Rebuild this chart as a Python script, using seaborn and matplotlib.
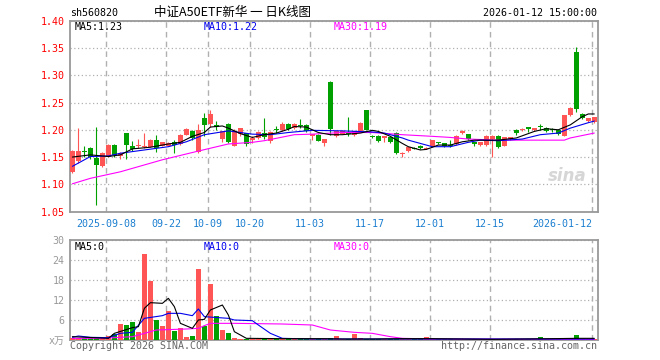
import numpy as np
import pandas as pd
import matplotlib
matplotlib.use("Agg")
import matplotlib.pyplot as plt
import seaborn as sns

# ---------------- data ----------------
opens = [1.122, 1.142, 1.161, 1.167, 1.149, 1.134, 1.151, 1.172, 1.152, 1.194,
         1.170, 1.170, 1.168, 1.169, 1.181, 1.171, 1.171, 1.178, 1.174, 1.191,
         1.198, 1.159, 1.222, 1.211, 1.209, 1.183, 1.211, 1.171, 1.193, 1.194,
         1.182, 1.185, 1.194, 1.180, 1.202, 1.199, 1.211, 1.203, 1.208, 1.209,
         1.189, 1.191, 1.175, 1.288, 1.189, 1.193, 1.195, 1.190, 1.198, 1.236,
         1.189, 1.189, 1.185, 1.186, 1.194, 1.155, 1.161, 1.167, 1.170, 1.165,
         1.170, 1.176, 1.175, 1.173, 1.174, 1.194, 1.192, 1.177, 1.172, 1.172,
         1.183, 1.189, 1.171, 1.183, 1.200, 1.200, 1.205, 1.199, 1.206, 1.203,
         1.200, 1.199, 1.189, 1.227, 1.342, 1.229, 1.216, 1.215]
highs = [1.163, 1.203, 1.170, 1.168, 1.205, 1.159, 1.174, 1.174, 1.160, 1.195,
         1.180, 1.183, 1.194, 1.184, 1.190, 1.178, 1.177, 1.181, 1.192, 1.204,
         1.199, 1.211, 1.230, 1.236, 1.216, 1.198, 1.212, 1.201, 1.204, 1.195,
         1.189, 1.197, 1.221, 1.197, 1.207, 1.215, 1.213, 1.212, 1.220, 1.211,
         1.193, 1.192, 1.184, 1.289, 1.198, 1.199, 1.224, 1.198, 1.214, 1.237,
         1.191, 1.190, 1.189, 1.187, 1.196, 1.159, 1.169, 1.168, 1.172, 1.168,
         1.182, 1.177, 1.176, 1.181, 1.190, 1.199, 1.193, 1.178, 1.178, 1.190,
         1.190, 1.190, 1.187, 1.187, 1.201, 1.204, 1.206, 1.204, 1.211, 1.206,
         1.203, 1.200, 1.228, 1.241, 1.352, 1.230, 1.222, 1.224]
lows = [1.120, 1.139, 1.150, 1.147, 1.062, 1.132, 1.150, 1.151, 1.147, 1.146,
        1.162, 1.166, 1.166, 1.168, 1.159, 1.170, 1.170, 1.158, 1.173, 1.190,
        1.181, 1.158, 1.188, 1.206, 1.200, 1.178, 1.176, 1.170, 1.188, 1.171,
        1.176, 1.184, 1.184, 1.175, 1.195, 1.198, 1.200, 1.202, 1.204, 1.196,
        1.181, 1.179, 1.170, 1.190, 1.186, 1.192, 1.189, 1.188, 1.197, 1.199,
        1.185, 1.178, 1.177, 1.175, 1.156, 1.151, 1.160, 1.164, 1.164, 1.164,
        1.169, 1.174, 1.169, 1.168, 1.173, 1.193, 1.181, 1.171, 1.171, 1.171,
        1.151, 1.166, 1.170, 1.182, 1.191, 1.198, 1.196, 1.198, 1.200, 1.196,
        1.196, 1.191, 1.188, 1.226, 1.233, 1.219, 1.215, 1.213]
closes = [1.162, 1.161, 1.159, 1.150, 1.136, 1.158, 1.172, 1.153, 1.157, 1.172,
          1.164, 1.172, 1.170, 1.181, 1.166, 1.177, 1.176, 1.173, 1.191, 1.202,
          1.185, 1.200, 1.209, 1.229, 1.206, 1.197, 1.177, 1.198, 1.203, 1.174,
          1.185, 1.196, 1.186, 1.196, 1.200, 1.211, 1.201, 1.211, 1.207, 1.197,
          1.192, 1.180, 1.183, 1.201, 1.197, 1.198, 1.193, 1.197, 1.213, 1.200,
          1.187, 1.180, 1.188, 1.178, 1.157, 1.158, 1.168, 1.165, 1.166, 1.167,
          1.181, 1.175, 1.170, 1.170, 1.189, 1.198, 1.183, 1.174, 1.177, 1.188,
          1.189, 1.169, 1.186, 1.186, 1.195, 1.202, 1.201, 1.203, 1.205, 1.197,
          1.199, 1.192, 1.227, 1.240, 1.238, 1.221, 1.221, 1.223]
volumes = [0.7, 0.5, 0.5, 0.5, 0.6, 0.5, 1.2, 1.8, 4.8, 4.5,
           5.5, 2.3, 25.8, 17.8, 6.0, 4.3, 8.8, 2.8, 3.7, 1.0,
           1.2, 21.4, 4.2, 16.8, 7.2, 3.1, 2.2, 0.6, 0.3, 0.3,
           0.2, 0.3, 0.2, 0.3, 0.2, 0.3, 0.2, 0.3, 0.5, 0.3,
           0.3, 0.3, 0.4, 0.5, 1.2, 0.3, 0.4, 1.8, 0.6, 0.4,
           0.3, 0.3, 0.3, 0.3, 0.4, 0.3, 0.3, 0.2, 0.3, 0.9,
           0.2, 0.2, 0.3, 0.2, 0.3, 0.2, 0.2, 0.3, 0.2, 0.2,
           0.3, 0.2, 0.2, 0.2, 0.3, 0.2, 0.2, 0.3, 0.9, 0.3,
           0.2, 0.3, 0.6, 0.3, 1.5, 0.3, 0.3, 0.3]

ma5_idx = [0, 3, 6, 8, 10, 13, 16, 18, 20, 22, 23, 25, 26, 28, 30, 32, 34, 36, 37, 39, 41, 43,
           45, 48, 50, 51, 53, 55, 56, 58, 59, 61, 63, 65, 67, 71, 74, 77, 79, 81, 83, 85, 86, 87]
ma5_val = [1.150, 1.154, 1.151, 1.154, 1.165, 1.168, 1.174, 1.177, 1.188, 1.195, 1.205, 1.207,
           1.203, 1.193, 1.186, 1.191, 1.194, 1.201, 1.206, 1.205, 1.195, 1.191, 1.191, 1.194,
           1.199, 1.197, 1.188, 1.175, 1.169, 1.163, 1.164, 1.172, 1.172, 1.178, 1.181, 1.181,
           1.185, 1.197, 1.202, 1.200, 1.209, 1.224, 1.229, 1.229]
ma10_idx = [0, 3, 6, 8, 12, 16, 19, 22, 26, 28, 30, 33, 36, 40, 45, 50, 52, 55, 56, 58, 60, 63,
            66, 68, 71, 75, 78, 81, 83, 86, 87]
ma10_val = [1.133, 1.151, 1.152, 1.157, 1.163, 1.169, 1.178, 1.191, 1.198, 1.195, 1.192, 1.191,
            1.195, 1.199, 1.198, 1.196, 1.194, 1.185, 1.181, 1.175, 1.169, 1.169, 1.177, 1.181,
            1.180, 1.183, 1.191, 1.194, 1.203, 1.213, 1.216]
ma30_idx = [0, 3, 8, 15, 21, 26, 30, 32, 37, 40, 45, 50, 55, 60, 63, 66, 71, 82, 83, 87]
ma30_val = [1.101, 1.111, 1.123, 1.145, 1.161, 1.174, 1.177, 1.180, 1.191, 1.192, 1.195, 1.195,
            1.191, 1.188, 1.186, 1.183, 1.181, 1.181, 1.185, 1.194]

vma5_idx = [0, 6, 7, 10, 11, 12, 13, 15, 16, 17, 18, 20, 21, 22, 23, 25, 26, 27, 29, 35, 42,
            45, 50, 55, 60, 70, 80, 84, 87]
vma5_val = [1.0, 0.5, 2.0, 3.7, 4.0, 9.5, 11.2, 11.0, 12.5, 10.0, 5.0, 3.5, 6.0, 6.2, 9.0, 10.5,
            7.5, 2.5, 0.5, 0.4, 0.4, 0.3, 0.3, 0.4, 0.4, 0.2, 0.4, 0.5, 0.5]
vma10_idx = [0, 1, 3, 6, 8, 10, 12, 15, 16, 18, 20, 21, 22, 26, 27, 30, 31, 33, 35, 40, 87]
vma10_val = [0.8, 1.2, 0.8, 0.7, 2.0, 2.3, 6.5, 7.3, 8.0, 8.0, 7.3, 9.3, 7.0, 6.5, 6.0, 5.8,
             4.5, 2.0, 0.5, 0.3, 0.3]
vma30_idx = [0, 5, 10, 12, 14, 19, 21, 22, 23, 27, 35, 40, 41, 43, 47, 50, 53, 55, 60, 87]
vma30_val = [0.5, 0.5, 1.0, 2.0, 3.0, 3.3, 3.5, 4.3, 5.0, 5.0, 4.8, 4.5, 4.0, 3.0, 2.3, 2.0,
             1.0, 0.5, 0.3, 0.2]

date_idx = [6, 16, 23, 30, 40, 50, 60, 70, 87]
date_labels = ["2025-09-08", "09-22", "10-09", "10-20", "11-03", "11-17", "12-01", "12-15", "2026-01-12"]
price_ticks = [1.05, 1.10, 1.15, 1.20, 1.25, 1.30, 1.35, 1.40]
vol_ticks = [0, 6, 12, 18, 24, 30]
vol_tick_labels = ["x万", "6", "12", "18", "24", "30"]

# ---------------- style ----------------
sns.set_theme(style="white")
plt.rcParams['font.family'] = ['DejaVu Sans Mono', 'Noto Sans CJK SC']

RED = "#ff5555"
GREEN = "#00a000"
GRID = "#b0b0b0"
SPINE = "#999999"
BLUE = "#0000ee"
MAG = "#ff00ff"
XLAB = "#1c7fd0"
LW = 0.8

W, H = 660, 360
fig = plt.figure(figsize=(W / 100, H / 100), dpi=100)


def fy(y):
    return 1 - y / H


ax = fig.add_axes([70 / W, fy(211.6), 528 / W, (211.6 - 20.7) / H])
axv = fig.add_axes([70 / W, fy(340), 528 / W, 100 / H])

df = pd.DataFrame({"o": opens, "h": highs, "l": lows, "c": closes, "v": volumes})
df["i"] = np.arange(len(df))
df["up"] = df["c"] >= df["o"]
colors = [RED if u else GREEN for u in df["up"]]

xlim = (-0.4, 87.62)

# ---------------- price panel ----------------
ax.vlines(df["i"], df["l"], df["h"], colors=colors, linewidth=0.8, zorder=3)
body_bottom = np.minimum(df["o"], df["c"])
body_h = np.maximum(np.abs(df["c"] - df["o"]), 0.0018)
ax.bar(df["i"], body_h, bottom=body_bottom, width=0.78, color=colors, linewidth=0, zorder=4)

sns.lineplot(x=ma30_idx, y=ma30_val, ax=ax, color=MAG, linewidth=LW, zorder=5, legend=False)
sns.lineplot(x=ma10_idx, y=ma10_val, ax=ax, color=BLUE, linewidth=LW, zorder=6, legend=False)
sns.lineplot(x=ma5_idx, y=ma5_val, ax=ax, color="black", linewidth=LW, zorder=7, legend=False)

ax.set_xlim(*xlim)
ax.set_ylim(1.05, 1.40)
ax.set_yticks(price_ticks)
ax.set_yticklabels([f"{t:.2f}" for t in price_ticks], color="red", fontsize=7.2)
grid_x = [d - 0.4 for d in date_idx]
ax.set_xticks(grid_x)
ax.set_xticklabels(date_labels, color=XLAB, fontsize=7.2)
xt = ax.get_xticklabels()
xt[-1].set_horizontalalignment("right")
ax.tick_params(axis="both", length=0, pad=4)
ax.tick_params(axis="x", pad=5)
ax.yaxis.grid(True, linestyle=(0, (1, 2)), color=GRID, linewidth=0.9)
ax.xaxis.grid(True, linestyle=(0, (4, 3)), color=GRID, linewidth=1)
ax.set_xlabel("")
ax.set_ylabel("")
for s in ax.spines.values():
    s.set_color(SPINE)
    s.set_linewidth(1.3)

# ---------------- volume panel ----------------
axv.bar(df["i"], df["v"], width=0.8, color=colors, linewidth=0, zorder=3)
sns.lineplot(x=vma30_idx, y=vma30_val, ax=axv, color=MAG, linewidth=LW, zorder=5, legend=False)
sns.lineplot(x=vma10_idx, y=vma10_val, ax=axv, color=BLUE, linewidth=LW, zorder=6, legend=False)
sns.lineplot(x=vma5_idx, y=vma5_val, ax=axv, color="black", linewidth=LW, zorder=7, legend=False)
axv.set_xlim(*xlim)
axv.set_ylim(0, 30)
axv.set_yticks(vol_ticks)
axv.set_yticklabels(vol_tick_labels, color="#999999", fontsize=7.2)
axv.set_xticks(grid_x)
axv.set_xticklabels([])
axv.tick_params(axis="both", length=0, pad=4)
axv.yaxis.grid(True, linestyle=(0, (1, 2)), color=GRID, linewidth=0.9)
axv.xaxis.grid(True, linestyle=(0, (4, 3)), color=GRID, linewidth=1)
axv.set_xlabel("")
axv.set_ylabel("")
for s in axv.spines.values():
    s.set_color(SPINE)
    s.set_linewidth(1.3)

# ---------------- texts ----------------
fig.text(70 / W, fy(13.5), "sh560820", fontsize=7.2, ha="left", va="center", color="black")
fig.text(232 / W, fy(12.5), "中证A50ETF新华 一 日K线图", fontsize=9, ha="center", va="center",
         color="black", family=["Noto Sans CJK SC", "DejaVu Sans"])
fig.text(597 / W, fy(13.5), "2026-01-12 15:00:00", fontsize=7.2, ha="right", va="center", color="black")

fig.text(75 / W, fy(27), "MA5:1.23", fontsize=7.2, ha="left", va="center", color="black")
fig.text(204 / W, fy(27), "MA10:1.22", fontsize=7.2, ha="left", va="center", color=BLUE)
fig.text(334 / W, fy(27), "MA30:1.19", fontsize=7.2, ha="left", va="center", color=MAG)

fig.text(75 / W, fy(247), "MA5:0", fontsize=7.2, ha="left", va="center", color="black")
fig.text(204 / W, fy(247), "MA10:0", fontsize=7.2, ha="left", va="center", color=BLUE)
fig.text(334 / W, fy(247), "MA30:0", fontsize=7.2, ha="left", va="center", color=MAG)

fig.text(70 / W, fy(346), "Copyright 2026 SINA.COM", fontsize=7.2, ha="left", va="center", color="#666666")
fig.text(597 / W, fy(346), "http://finance.sina.com.cn", fontsize=7.2, ha="right", va="center", color="#666666")

fig.text(567 / W, fy(176), "sina", fontsize=12, ha="center", va="center", color="#cccccc",
         style="italic", weight="bold", family=["DejaVu Sans"], alpha=0.8)

fig.savefig("out.png", dpi=100)
